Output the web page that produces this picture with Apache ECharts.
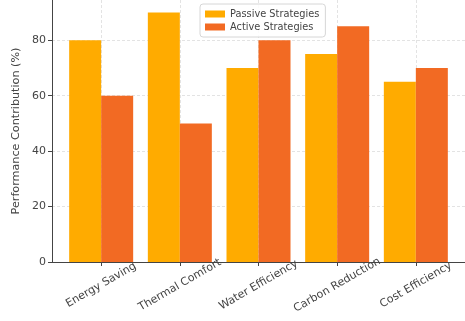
<!DOCTYPE html>
<html>
<head>
<meta charset="utf-8">
<script src="https://cdn.jsdelivr.net/npm/echarts@6/dist/echarts.min.js"></script>
<style>
  html, body { margin: 0; padding: 0; background: #fff; }
  #chart { width: 465px; height: 321px; }
</style>
</head>
<body>
<div id="chart"></div>
<script>
const categories = ["Energy Saving", "Thermal Comfort", "Water Efficiency", "Carbon Reduction", "Cost Efficiency"];
const passiveValues = [80, 90, 70, 75, 65];
const activeValues = [60, 50, 80, 85, 70];
const yTicks = [0, 20, 40, 60, 80];
const xTicks = [0, 1, 2, 3, 4];
const seriesNames = ["Passive Strategies", "Active Strategies"];

const font = "DejaVu Sans";
const chart = echarts.init(document.getElementById("chart"), null, {renderer: "canvas"});

const toPoints = vals => vals.map((v, i) => [i, v]);

const option = {
  animation: false,
  textStyle: {fontFamily: font},
  grid: {left: 52, right: -7, top: 0, bottom: 59, containLabel: false},
  legend: {
    orient: "vertical",
    left: 200,
    top: 4,
    padding: [5, 6, 5, 5],
    itemWidth: 20,
    itemHeight: 7,
    itemGap: 3,
    icon: "rect",
    borderColor: "#d6d6d6",
    borderWidth: 1,
    borderRadius: 3,
    backgroundColor: "rgba(255,255,255,0.85)",
    textStyle: {fontFamily: font, fontSize: 9.8, color: "#444"},
    data: seriesNames,
  },
  xAxis: {
    type: "value",
    min: -0.625,
    max: 4.625,
    axisLine: {show: true, onZero: false, lineStyle: {color: "#444", width: 1}},
    axisTick: {show: true, length: 4, lineStyle: {color: "#444"}, customValues: xTicks},
    axisLabel: {
      customValues: xTicks,
      formatter: v => categories[Math.round(v)] || "",
      rotate: 30,
      align: "center",
      verticalAlign: "middle",
      margin: 23,
      fontFamily: font,
      fontSize: 11,
      color: "#444",
    },
    splitLine: {show: true, lineStyle: {color: "#dcdcdc", type: [3, 2], width: 0.8}},
  },
  yAxis: {
    type: "value",
    min: 0,
    max: 94.5,
    name: "Performance Contribution (%)",
    nameLocation: "middle",
    nameGap: 25,
    nameTextStyle: {fontFamily: font, fontSize: 11.2, color: "#444"},
    axisLine: {show: true, onZero: false, lineStyle: {color: "#444", width: 1}},
    axisTick: {show: true, length: 4, lineStyle: {color: "#444"}, customValues: yTicks},
    axisLabel: {customValues: yTicks, fontFamily: font, fontSize: 11, color: "#444", margin: 6},
    splitLine: {show: true, lineStyle: {color: "#dcdcdc", type: [3, 2], width: 0.8}},
  },
  series: [
    {
      name: seriesNames[0],
      type: "bar",
      data: toPoints(passiveValues),
      barWidth: 32,
      barGap: "0%",
      itemStyle: {color: "#FFAB00"},
    },
    {
      name: seriesNames[1],
      type: "bar",
      data: toPoints(activeValues),
      barWidth: 32,
      barGap: "0%",
      itemStyle: {color: "#F26A23"},
    },
  ],
};

chart.setOption(option);
</script>
</body>
</html>
